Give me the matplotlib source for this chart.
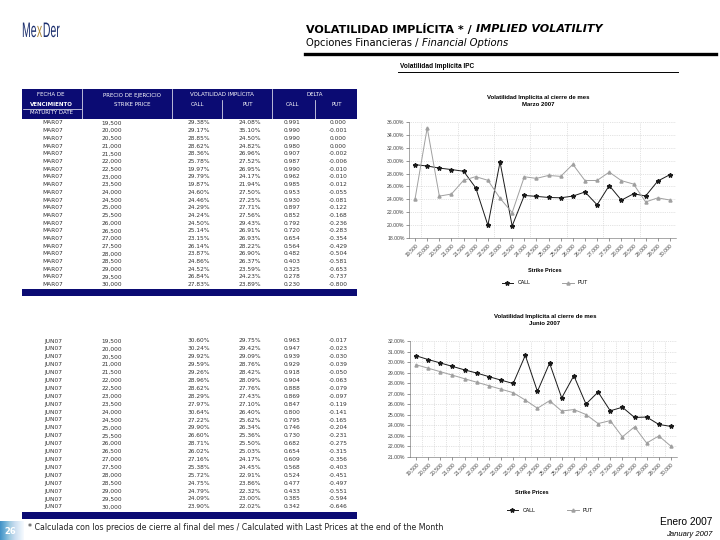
import numpy as np
import matplotlib.pyplot as plt
from matplotlib.patches import Rectangle, PathPatch
from matplotlib.textpath import TextPath
from matplotlib.font_manager import FontProperties
from matplotlib.transforms import Affine2D
from matplotlib.ticker import FuncFormatter, MultipleLocator, FixedLocator

strikes = [19500, 20000, 20500, 21000, 21500, 22000, 22500, 23000, 23500, 24000, 24500,
           25000, 25500, 26000, 26500, 27000, 27500, 28000, 28500, 29000, 29500, 30000]

# marzo 2007
mar_call = [29.38, 29.17, 28.85, 28.62, 28.36, 25.78, 19.97, 29.79, 19.87, 24.60, 24.46,
            24.29, 24.24, 24.50, 25.14, 23.15, 26.14, 23.87, 24.86, 24.52, 26.84, 27.83]
mar_put = [24.08, 35.10, 24.50, 24.82, 26.96, 27.52, 26.95, 24.17, 21.94, 27.50, 27.25,
           27.71, 27.56, 29.43, 26.91, 26.93, 28.22, 26.90, 26.37, 23.59, 24.23, 23.89]
mar_dcall = [0.991, 0.990, 0.990, 0.980, 0.907, 0.987, 0.990, 0.962, 0.985, 0.953, 0.930,
             0.897, 0.852, 0.792, 0.720, 0.654, 0.564, 0.482, 0.403, 0.325, 0.278, 0.230]
mar_dput = [0.000, -0.001, 0.000, 0.000, -0.002, -0.006, -0.010, -0.010, -0.012, -0.055, -0.081,
            -0.122, -0.168, -0.236, -0.283, -0.354, -0.429, -0.504, -0.581, -0.653, -0.737, -0.800]

# junio 2007
jun_call = [30.60, 30.24, 29.92, 29.59, 29.26, 28.96, 28.62, 28.29, 27.97, 30.64, 27.22,
            29.90, 26.60, 28.71, 26.02, 27.16, 25.38, 25.72, 24.75, 24.79, 24.09, 23.90]
jun_put = [29.75, 29.42, 29.09, 28.76, 28.42, 28.09, 27.76, 27.43, 27.10, 26.40, 25.62,
           26.34, 25.36, 25.50, 25.03, 24.17, 24.45, 22.91, 23.86, 22.32, 23.00, 22.02]
jun_dcall = [0.963, 0.947, 0.939, 0.929, 0.918, 0.904, 0.888, 0.869, 0.847, 0.800, 0.795,
             0.746, 0.730, 0.682, 0.654, 0.609, 0.568, 0.524, 0.477, 0.433, 0.385, 0.342]
jun_dput = [-0.017, -0.023, -0.030, -0.039, -0.050, -0.063, -0.079, -0.097, -0.119, -0.141, -0.165,
            -0.204, -0.231, -0.275, -0.315, -0.356, -0.403, -0.451, -0.497, -0.551, -0.594, -0.646]

W, H = 720, 540
NAVY = '#0b0b73'
fig = plt.figure(figsize=(7.2, 5.4), dpi=100)
fig.patch.set_facecolor('white')


def fx(x):
    return x / W


def fy(y):
    return 1 - y / H


def txt(x, y, s, **kw):
    return fig.text(fx(x), fy(y), s, **kw)


def two_part(x, y, a, b, size, weight):
    # texto normal seguido de parte en cursiva
    r = fig.canvas.get_renderer()
    t = txt(x, y, a, fontsize=size, fontweight=weight, va='center', family='DejaVu Sans')
    bb = t.get_window_extent(renderer=r)
    fig.text(bb.x1 / fig.bbox.width, fy(y), b, fontsize=size, fontweight=weight,
             style='italic', va='center', family='DejaVu Sans')


# logo (letras estrechas)
ov = fig.add_axes([0, 0, 1, 1])
ov.set_xlim(0, W)
ov.set_ylim(H, 0)
ov.axis('off')
fp = FontProperties(family='Liberation Sans')
xpos = 22
for part, col in [('Me', '#1c2f6e'), ('x', '#b08a3a'), ('Der', '#1c2f6e')]:
    tp = TextPath((0, 0), part, size=1, prop=fp)
    tr = Affine2D().scale(10.5, -21).translate(xpos, 37)
    ov.add_patch(PathPatch(tr.transform_path(tp), color=col, lw=0))
    xpos += tp.get_extents().x1 * 10.5 + 0.8

# cabecera
two_part(306, 29, 'VOLATILIDAD IMPLÍCITA * / ', 'IMPLIED VOLATILITY', 8.0, 'bold')
two_part(306, 43, 'Opciones Financieras / ', 'Financial Options', 7.2, 'normal')
fig.add_artist(plt.Line2D([fx(305), fx(716)], [fy(53.5), fy(53.5)], color='black', lw=2.4))

txt(400, 67, 'Volatilidad Implícita IPC', fontsize=4.7, fontweight='bold', va='center',
    family='Liberation Sans')
fig.add_artist(plt.Line2D([fx(398), fx(678)], [fy(72), fy(72)], color='black', lw=0.7))

# tablas
tx0, tx1 = 22, 357
fig.add_artist(Rectangle((fx(tx0), fy(118.5)), fx(tx1 - tx0), 29.5 / H, color=NAVY, lw=0))
hk = dict(fontsize=4, color='white', ha='center', va='center', family='DejaVu Sans')
txt(51, 95, 'FECHA DE', **hk)
txt(51, 104, 'VENCIMIENTO', fontweight='bold', **hk)
txt(51, 113, 'MATURITY DATE', **hk)
txt(132, 95, 'PRECIO DE EJERCICIO', **hk)
txt(132, 104, 'STRIKE PRICE', **hk)
txt(222, 95, 'VOLATILIDAD IMPLÍCITA', **hk)
txt(197, 105, 'CALL', **hk)
txt(248, 105, 'PUT', **hk)
txt(315, 95, 'DELTA', **hk)
txt(293, 105, 'CALL', **hk)
txt(337, 105, 'PUT', **hk)
for xv in [82, 172, 272]:
    fig.add_artist(plt.Line2D([fx(xv), fx(xv)], [fy(118.5), fy(89)], color='white', lw=0.5))
for xv in [222, 315]:
    fig.add_artist(plt.Line2D([fx(xv), fx(xv)], [fy(118.5), fy(100)], color='white', lw=0.5))
fig.add_artist(plt.Line2D([fx(23), fx(81)], [fy(108.5), fy(108.5)], color='white', lw=0.5))


def draw_table(y0, step, code, call, put, dc, dp, bar_y):
    rk = dict(fontsize=4.2, color='#333333', ha='center', va='center', family='DejaVu Sans')
    for i in range(len(strikes)):
        y = y0 + i * step
        txt(53, y, code, **rk)
        txt(112, y, f'{strikes[i]:,}', **rk)
        txt(199, y, f'{call[i]:.2f}%', **rk)
        txt(250, y, f'{put[i]:.2f}%', **rk)
        txt(292, y, f'{dc[i]:.3f}', **rk)
        txt(338, y, f'{dp[i]:.3f}', **rk)
    fig.add_artist(Rectangle((fx(tx0), fy(bar_y + 7.5)), fx(tx1 - tx0), 7.5 / H, color=NAVY, lw=0))


draw_table(123, 7.7, 'MAR07', mar_call, mar_put, mar_dcall, mar_dput, 288.5)
draw_table(341, 7.9, 'JUN07', jun_call, jun_put, jun_dcall, jun_dput, 511.5)


def chart(box, call, put, ylo, yhi, ystep, title, ttl_xy, xl_xy, leg_xy, vgrid):
    x0, y0, x1, y1 = box
    ax = fig.add_axes([fx(x0), fy(y1), fx(x1 - x0), (y1 - y0) / H])
    xs = np.arange(len(strikes))
    l1, = ax.plot(xs, call, color='#1a1a1a', marker='*', ms=3.2, lw=0.7)
    l2, = ax.plot(xs, put, color='#a0a0a0', marker='^', ms=2.2, lw=0.7)
    ax.set_xlim(-0.5, len(strikes) - 0.5)
    ax.set_ylim(ylo, yhi)
    ax.yaxis.set_major_locator(MultipleLocator(ystep))
    ax.yaxis.set_major_formatter(FuncFormatter(lambda v, _: f'{v:.2f}%'))
    ax.set_xticks(xs)
    ax.set_xticklabels([f'{s:,}' for s in strikes], rotation=45, ha='right',
                       rotation_mode='anchor', family='Liberation Sans')
    ax.xaxis.set_minor_locator(FixedLocator(vgrid))
    ax.tick_params(labelsize=3.7, length=2, width=0.4, pad=1.2, colors='#444444')
    ax.tick_params(which='minor', length=0)
    for lab in ax.get_yticklabels():
        lab.set_family('Liberation Sans')
    ax.grid(axis='y', color='#c8c8c8', ls=':', lw=0.5)
    ax.grid(axis='x', which='minor', color='#c8c8c8', ls=':', lw=0.5)
    for s in ['top', 'right']:
        ax.spines[s].set_visible(False)
    for s in ['left', 'bottom']:
        ax.spines[s].set_linewidth(0.4)
        ax.spines[s].set_color('#666666')
    ax.set_facecolor('white')
    txt(ttl_xy[0], ttl_xy[1], title, fontsize=4.3, fontweight='bold', ha='center', va='center',
        family='Liberation Sans', linespacing=1.3)
    txt(xl_xy[0], xl_xy[1], 'Strike Prices', fontsize=4, fontweight='bold', ha='center',
        va='center', family='Liberation Sans')
    fig.legend([l1, l2], ['CALL', 'PUT'], loc='center', ncol=2, frameon=False,
               bbox_to_anchor=(fx(leg_xy[0]), fy(leg_xy[1])),
               handlelength=2.2, columnspacing=6, prop={'family': 'Liberation Sans', 'size': 3.8})
    return ax


chart((409, 122, 676, 238), mar_call, mar_put, 18, 36, 2,
      'Volatilidad Implícita al cierre de mes\nMarzo 2007', (538, 101), (545, 271), (545, 283),
      [0.5, 3.5, 6.5, 9.5, 12.5, 15.5, 18.5, 21.5])
chart((410, 341, 677, 457), jun_call, jun_put, 21, 32, 1,
      'Volatilidad Implícita al cierre de mes\nJunio 2007', (545, 320), (532, 492), (550, 510),
      [k + 0.5 for k in range(22)])

# pie de página
gax = fig.add_axes([0, 0, fx(24), 19 / H])
grad = np.linspace(0, 1, 64)[None, :]
gax.imshow(grad, cmap='Blues_r', aspect='auto', vmin=-0.6, vmax=1.0)
gax.axis('off')
txt(10, 531, '26', fontsize=6, color='white', fontweight='bold', ha='center', va='center')
txt(28, 528, '* Calculada con los precios de cierre al final del mes / Calculated with Last '
    'Prices at the end of the Month', fontsize=5.7, va='center', color='#222222',
    family='DejaVu Sans')
txt(712, 522, 'Enero 2007', fontsize=7.3, ha='right', va='center', family='Liberation Sans')
txt(712, 535, 'January 2007', fontsize=5.5, ha='right', va='center', style='italic',
    family='Liberation Sans')

fig.savefig('out.png', dpi=100)
